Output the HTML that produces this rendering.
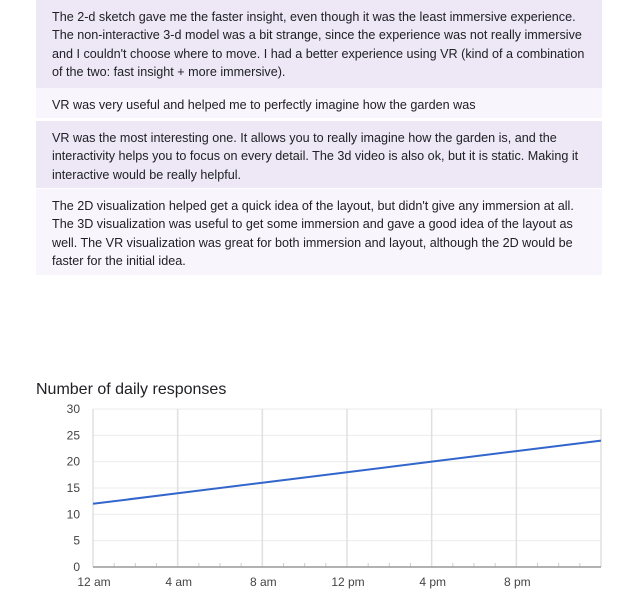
<!DOCTYPE html>
<html><head><meta charset="utf-8"><style>
body{margin:0;width:628px;height:607px;background:#fff;font-family:"Liberation Sans",sans-serif;position:relative;overflow:hidden}
.box{position:absolute;left:36px;width:566px;box-sizing:border-box;padding:8px 16px 0 16px;font-size:12.6px;line-height:18.3px;color:#202124}
.d{background:#ede7f6}.l{background:#f8f5fd}
</style></head><body>
<div class="box d" style="top:0;height:88px">The 2-d sketch gave me the faster insight, even though it was the least immersive experience. The non-interactive 3-d model was a bit strange, since the experience was not really immersive and I couldn't choose where to move. I had a better experience using VR (kind of a combination of the two: fast insight + more immersive).</div>
<div class="box l" style="top:88px;height:30px">VR was very useful and helped me to perfectly imagine how the garden was</div>
<div class="box d" style="top:121px;height:67px">VR was the most interesting one. It allows you to really imagine how the garden is, and the interactivity helps you to focus on every detail. The 3d video is also ok, but it is static. Making it interactive would be really helpful.</div>
<div class="box l" style="top:189px;height:86px">The 2D visualization helped get a quick idea of the layout, but didn't give any immersion at all. The 3D visualization was useful to get some immersion and gave a good idea of the layout as well. The VR visualization was great for both immersion and layout, although the 2D would be faster for the initial idea.</div>
<div style="position:absolute;left:36px;top:381px;font-size:16px;color:#202124">Number of daily responses</div>
<svg id="c" width="628" height="607" style="position:absolute;left:0;top:0"></svg>
<script>
const hours=[0,4,8,12,16,20,24];
const values=[12,14,16,18,20,22,24];
const xLabels=['12 am','4 am','8 am','12 pm','4 pm','8 pm'];
const yTicks=[0,5,10,15,20,25,30];
const svg=document.getElementById('c');const NS='http://www.w3.org/2000/svg';
const X0=93,X1=601,Y0=567,Y1=409;
const x=h=>X0+(X1-X0)*h/24, y=v=>Y0-(Y0-Y1)*v/30;
function mk(t,a,p){const e=document.createElementNS(NS,t);for(const k in a)e.setAttribute(k,a[k]);(p||svg).appendChild(e);return e;}
yTicks.forEach(v=>{const g=mk('line',{x1:X0,x2:X1,y1:y(v),y2:y(v),stroke:'#ebebeb','stroke-width':1});

const t=mk('text',{x:80,y:y(v)+4,'text-anchor':'end','font-size':12,fill:'#444','font-family':'Liberation Sans'});t.textContent=v;
});
for(let h=0;h<=24;h+=4){const g=mk('line',{x1:x(h),x2:x(h),y1:Y1,y2:Y0,stroke:'#e0e0e0','stroke-width':1.5});
}
for(let h=1;h<24;h++){if(h%4)mk('line',{x1:x(h),x2:x(h),y1:Y0-4,y2:Y0,stroke:'#ccc'});}
xLabels.forEach((l,i)=>{const t=mk('text',{x:x(i*4)+1,y:586,'text-anchor':'middle','font-size':12,fill:'#444','font-family':'Liberation Sans'});t.textContent=l;
});
const ax=mk('line',{x1:X0,x2:X1,y1:Y0,y2:Y0,stroke:'#999','stroke-width':1.5});

const pl=mk('polyline',{points:hours.map((h,i)=>x(h)+','+y(values[i])).join(' '),fill:'none',stroke:'#3366cc','stroke-width':2});

</script>
</body></html>
